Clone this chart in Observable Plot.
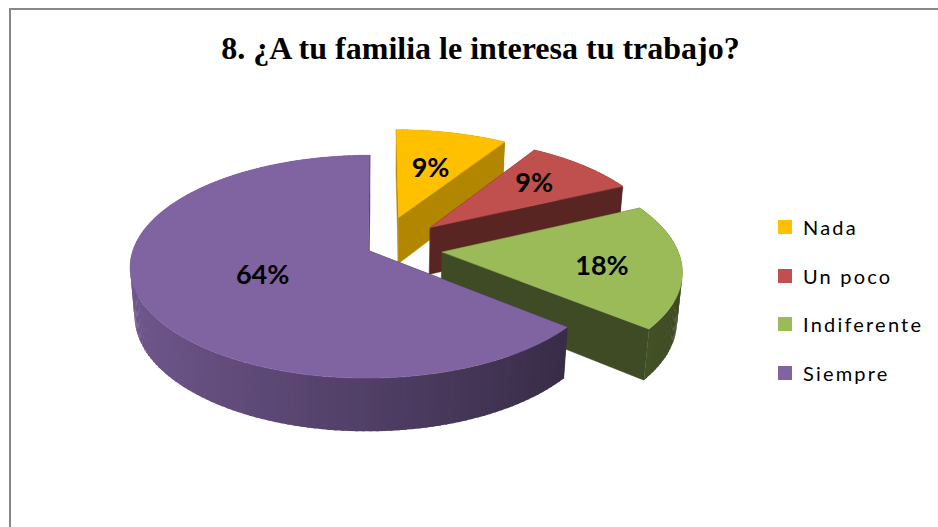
<!DOCTYPE html>
<html>
<head>
<meta charset="utf-8">
<script src="https://cdn.jsdelivr.net/npm/d3@7"></script>
<script src="https://cdn.jsdelivr.net/npm/@observablehq/plot@0.6"></script>
<style>
  html, body { margin: 0; padding: 0; background: #fff; width: 938px; height: 527px; overflow: hidden; }
  #wrap { position: relative; width: 938px; height: 527px; overflow: hidden; background: #fff; }
  #chart { position: absolute; left: 0; top: 0; }
  #frame { position: absolute; left: 9px; top: 8px; width: 1000px; height: 600px;
           border-left: 2px solid #878787; border-top: 2px solid #878787; }
  #title { position: absolute; left: 0; top: 31.5px; width: 961px; text-align: center;
           font: bold 32px "Liberation Serif", "Times New Roman", serif; line-height: 32px; color: #000; }
  .sw { position: absolute; width: 14px; height: 14px; }
  .lg { position: absolute; font: 20px Lato, "Open Sans", sans-serif; letter-spacing: 2.2px;
        line-height: 24px; color: #000; white-space: nowrap; }
</style>
</head>
<body>
<div id="wrap">
  <div id="chart"></div>
  <div id="frame"></div>
  <div id="title"></div>
  <div id="legend"></div>
</div>
<script>
// ---- data ----
const categories = ["Nada", "Un poco", "Indiferente", "Siempre"];
const values = [9, 9, 18, 64];
const valueLabels = ["9%", "9%", "18%", "64%"];
const title = "8. ¿A tu familia le interesa tu trabajo?";

// ---- styles ----
const palette = ["#FFC000", "#C0504D", "#9BBB59", "#8064A2"];
const cutShade = [0.70, 0.46, 0.40, 0.40];
const explode = [0.31, 0.30, 0.27, 0.05];     // fraction of radius
const labelRadius = [0.57, 0.66, 0.67, 0.48]; // fraction of radius
const labelDy = [2, -2, 5, 2];

// ---- 3D view (perspective camera) ----
const view = {cx: 378.6, cy: 247.8, f: 1450, D: 1, elev: 27.5, R: 0.162, h: 0.0378};
const rad = d => d * Math.PI / 180;
const cosE = Math.cos(rad(view.elev)), sinE = Math.sin(rad(view.elev));
function project3d(X, Y, Z) {
  const w = view.D + Y * cosE - Z * sinE;
  const s = Y * sinE + Z * cosE;
  return [view.cx + view.f * X / w, view.cy - view.f * s / w];
}
const projection = d3.geoTransform({
  point(x, y, z) {
    const p = project3d(x, y, z || 0);
    this.stream.point(p[0], p[1]);
  }
});
const cam = [0, -view.D * cosE, view.D * sinE];
function facing(n, p) {
  return n[0] * (cam[0] - p[0]) + n[1] * (cam[1] - p[1]) + n[2] * (cam[2] - p[2]) > 0;
}
function shade(c, k) {
  const r = d3.rgb(c);
  return d3.rgb(r.r * k, r.g * k, r.b * k).formatHex();
}

const total = d3.sum(values);
let acc = 0;
const slices = values.map((v, i) => {
  const a0 = acc / total * 360; acc += v;
  const a1 = acc / total * 360;
  return {i, a0, a1, mid: (a0 + a1) / 2};
});

function pt(s, t, r, z) {
  const E = explode[s.i] * view.R, m = rad(s.mid);
  return [E * Math.sin(m) + r * Math.sin(rad(t)), E * Math.cos(m) + r * Math.cos(rad(t)), z];
}
const feat = (ring, fill, line) => ({type: "Feature", properties: {fill, line},
  geometry: {type: "Polygon", coordinates: [[...ring, ring[0]]]}});

const R = view.R, H = view.h;
const faces = [];
for (const s of slices) {
  const back = [], front = [];
  const color = palette[s.i];
  // radial cut faces
  for (const [a, dir] of [[s.a0, -90], [s.a1, 90]]) {
    const ring = [pt(s, a, 0, 0), pt(s, a, R, 0), pt(s, a, R, -H), pt(s, a, 0, -H)];
    const n = [Math.sin(rad(a + dir)), Math.cos(rad(a + dir)), 0];
    const c = pt(s, a, R / 2, -H / 2);
    (facing(n, c) ? front : back).push(feat(ring, shade(color, cutShade[s.i]), true));
  }
  // outer side, in thin overlapping strips
  const steps = Math.ceil((s.a1 - s.a0) / 1.5);
  for (let k = 0; k < steps; k++) {
    const t1 = s.a0 + (s.a1 - s.a0) * k / steps;
    const t2 = Math.min(s.a1, s.a0 + (s.a1 - s.a0) * (k + 1) / steps + 0.5);
    const tm = s.a0 + (s.a1 - s.a0) * (k + 0.5) / steps;
    const ring = [pt(s, t1, R, 0), pt(s, t2, R, 0), pt(s, t2, R, -H), pt(s, t1, R, -H)];
    const n = [Math.sin(rad(tm)), Math.cos(rad(tm)), 0];
    const k2 = 0.63 - 0.25 * Math.sin(rad(tm));
    (facing(n, pt(s, tm, R, -H / 2)) ? front : back).push(feat(ring, shade(color, k2), false));
  }
  // top face
  const top = [pt(s, s.a0, 0, 0)];
  const n1 = Math.ceil(s.a1 - s.a0);
  for (let k = 0; k <= n1; k++) top.push(pt(s, s.a0 + (s.a1 - s.a0) * k / n1, R, 0));
  faces.push(...back, ...front, feat(top, color, true));
}

const labelData = slices.map(s => {
  const p = pt(s, s.mid, R * labelRadius[s.i], 0);
  return {X: p[0], Y: p[1], label: valueLabels[s.i], dy: labelDy[s.i]};
});

const plot = Plot.plot({
  width: 938,
  height: 527,
  margin: 0,
  projection,
  color: {type: "identity"},
  style: {background: "transparent", overflow: "visible"},
  marks: [
    Plot.geo(faces, {
      fill: d => d.properties.fill,
      stroke: d => d.properties.line ? d.properties.fill : "none",
      strokeWidth: 0.5
    }),
    ...labelData.map(l => Plot.text([l], {x: "X", y: "Y", text: "label", dy: l.dy, fill: "#000", fontSize: 27,
      fontWeight: "bold", fontFamily: "Lato, 'Open Sans', sans-serif"}))
  ]
});
document.getElementById("chart").appendChild(plot);
document.getElementById("title").textContent = title;

const legend = document.getElementById("legend");
categories.forEach((c, i) => {
  const y0 = 227 + i * 48.5;
  const sw = document.createElement("div");
  sw.className = "sw";
  sw.style.left = "778px"; sw.style.top = (y0 - 7) + "px"; sw.style.background = palette[i];
  legend.appendChild(sw);
  const t = document.createElement("div");
  t.className = "lg";
  t.style.left = "803px"; t.style.top = (y0 - 12) + "px";
  t.textContent = c;
  legend.appendChild(t);
});
</script>
</body>
</html>
